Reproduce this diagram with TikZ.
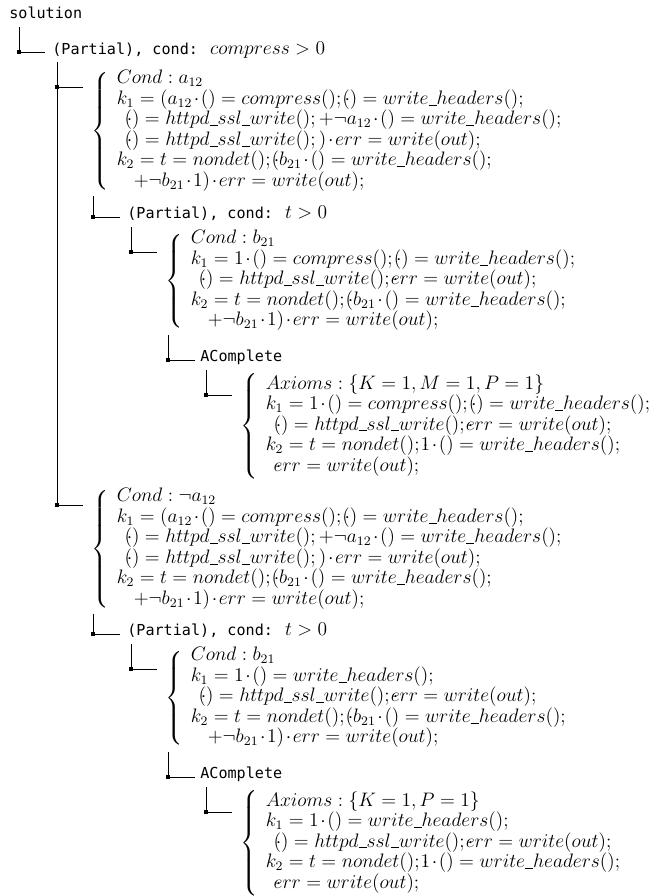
\documentclass[tikz,border=0pt]{standalone}
\usepackage{amsmath}
\usepackage{fontspec}
\newfontfamily\treefont{DejaVu Sans Mono}
\usetikzlibrary{calc}
\newcommand{\jd}{\mathord{\cdot}\mkern-7mu}
\newcommand{\us}{\rule[-0.5pt]{5pt}{0.45pt}}
\newcommand{\sind}{\hspace*{6.2pt}}
\newcommand{\lind}{\hspace*{10.5pt}}
\newcommand{\tightbin}{\medmuskip=1.5mu\relax}

\begin{document}
\begin{tikzpicture}[x=0.615pt,y=-0.615pt,
  treetext/.style={inner sep=0pt,anchor=base west,font=\treefont\fontsize{9.3}{11}\selectfont},
  block/.style={inner sep=0pt,anchor=north west,font=\fontsize{11.5}{12}\selectfont},
  branch/.style={line width=0.5pt},
  joint/.style={fill,inner sep=0pt,minimum size=2.5pt}]
  \useasboundingbox (0,0) rectangle (659,896);

  \node[treetext] (root) at (9,18) {solution};
  \node[treetext] (p1) at (52,54) {(Partial), cond: {\fontsize{11.5}{12}\selectfont$compress > 0$}};

  % branch a12
  \node[block] (blka) at (91,70) {$\tightbin\left\{\begin{array}{l}
    Cond : a_{12}\\
    k_1 = (a_{12}\cdot () = compress();\jd() = write\us headers();\\
    \sind\jd() = httpd\us ssl\us write();+\neg a_{12}\cdot () = write\us headers();\\
    \sind\jd() = httpd\us ssl\us write();)\cdot err = write(out);\\
    k_2 = t = nondet();\jd(b_{21}\cdot () = write\us headers();\\
    \lind+\neg b_{21}\cdot 1)\cdot err = write(out);
  \end{array}\right.$};
  \node[treetext] (p2a) at (127,218) {(Partial), cond: {\fontsize{11.5}{12}\selectfont$t > 0$}};
  \node[block] (b21a) at (165,230) {$\tightbin\left\{\begin{array}{l}
    Cond : b_{21}\\
    k_1 = 1\cdot () = compress();\jd() = write\us headers();\\
    \sind\jd() = httpd\us ssl\us write();\jd err = write(out);\\
    k_2 = t = nondet();\jd(b_{21}\cdot () = write\us headers();\\
    \lind+\neg b_{21}\cdot 1)\cdot err = write(out);
  \end{array}\right.$};
  \node[treetext] (aca) at (200,361) {AComplete};
  \node[block] (axa) at (240,373) {$\tightbin\left\{\begin{array}{l}
    Axioms : \{K = 1, M = 1, P = 1\}\\
    k_1 = 1\cdot () = compress();\jd() = write\us headers();\\
    \sind\jd() = httpd\us ssl\us write();\jd err = write(out);\\
    k_2 = t = nondet();\jd 1\cdot () = write\us headers();\\
    \sind\jd err = write(out);
  \end{array}\right.$};

  % branch not a12
  \begin{scope}[shift={(0,417)}]
    \node[block] (blkb) at (91,71) {$\tightbin\left\{\begin{array}{l}
      Cond : \neg a_{12}\\
      k_1 = (a_{12}\cdot () = compress();\jd() = write\us headers();\\
      \sind\jd() = httpd\us ssl\us write();+\neg a_{12}\cdot () = write\us headers();\\
      \sind\jd() = httpd\us ssl\us write();)\cdot err = write(out);\\
      k_2 = t = nondet();\jd(b_{21}\cdot () = write\us headers();\\
      \lind+\neg b_{21}\cdot 1)\cdot err = write(out);
    \end{array}\right.$};
    \node[treetext] (p2b) at (127,218) {(Partial), cond: {\fontsize{11.5}{12}\selectfont$t > 0$}};
    \node[block] (b21b) at (165,230) {$\tightbin\left\{\begin{array}{l}
      Cond : b_{21}\\
      k_1 = 1\cdot () = write\us headers();\\
      \sind\jd() = httpd\us ssl\us write();\jd err = write(out);\\
      k_2 = t = nondet();\jd(b_{21}\cdot () = write\us headers();\\
      \lind+\neg b_{21}\cdot 1)\cdot err = write(out);
    \end{array}\right.$};
    \node[treetext] (acb) at (200,361) {AComplete};
    \node[block] (axb) at (240,373) {$\tightbin\left\{\begin{array}{l}
      Axioms : \{K = 1, P = 1\}\\
      k_1 = 1\cdot () = write\us headers();\\
      \sind\jd() = httpd\us ssl\us write();\jd err = write(out);\\
      k_2 = t = nondet();\jd 1\cdot () = write\us headers();\\
      \sind\jd err = write(out);
    \end{array}\right.$};
  \end{scope}

  % tree lines
  \draw[branch] ($(root.base west)+(10,9)$) |- node[joint,pos=.5] (j1) {} ($(p1.base west)+(-7,-2)$);
  \draw[branch] ($(p1.base west)+(5,8)$) |- node[joint,pos=.5] (j2) {} ($(blka.north west)+(-8,17)$);
  \draw[branch] ($(p1.base west)+(5,8)$) |- node[joint,pos=.5] (j3) {} ($(blkb.north west)+(-8,17)$);
  \draw[branch] ($(blka.south west)+(2,3)$) |- node[joint,pos=.5] (j4) {} ($(p2a.base west)+(-7,-1)$);
  \draw[branch] ($(p2a.base west)+(4,9)$) |- node[joint,pos=.5] (j5) {} ($(b21a.north west)+(-8,22)$);
  \draw[branch] ($(b21a.south west)+(3,3)$) |- node[joint,pos=.5] (j6) {} ($(aca.base west)+(-5,-1)$);
  \draw[branch] ($(aca.base west)+(6,9)$) |- node[joint,pos=.5] (j7) {} ($(axa.north west)+(-8,22)$);
  \draw[branch] ($(blkb.south west)+(2,3)$) |- node[joint,pos=.5] (j8) {} ($(p2b.base west)+(-7,-1)$);
  \draw[branch] ($(p2b.base west)+(4,9)$) |- node[joint,pos=.5] (j9) {} ($(b21b.north west)+(-8,22)$);
  \draw[branch] ($(b21b.south west)+(3,3)$) |- node[joint,pos=.5] (j10) {} ($(acb.base west)+(-5,-1)$);
  \draw[branch] ($(acb.base west)+(6,9)$) |- node[joint,pos=.5] (j11) {} ($(axb.north west)+(-8,22)$);
\end{tikzpicture}
\end{document}
